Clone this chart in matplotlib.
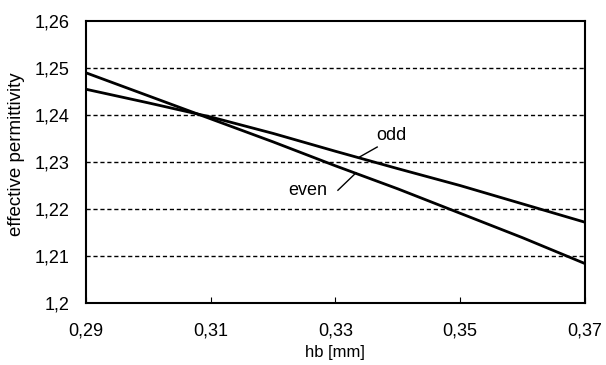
import matplotlib
matplotlib.use("Agg")
import matplotlib.pyplot as plt
from matplotlib.ticker import FuncFormatter

plt.rcParams['font.family'] = ['Liberation Sans', 'DejaVu Sans']

# hb [mm]
hb = [0.29, 0.30, 0.31, 0.32, 0.33, 0.34, 0.35, 0.36, 0.37]
eps_even = [1.2490, 1.2441, 1.2392, 1.2343, 1.2292, 1.2243, 1.2191, 1.2139, 1.2084]
eps_odd = [1.2455, 1.2426, 1.2396, 1.2361, 1.2323, 1.2286, 1.2250, 1.2211, 1.2172]

xticks = [0.29, 0.31, 0.33, 0.35, 0.37]
yticks = [1.20, 1.21, 1.22, 1.23, 1.24, 1.25, 1.26]

fig = plt.figure(figsize=(6.06, 3.65), dpi=100)
ax = fig.add_axes([0.142, 0.170, 0.823, 0.772])

ax.plot(hb, eps_even, color='black', lw=2)
ax.plot(hb, eps_odd, color='black', lw=2)

# dashed grid lines
for yv in yticks[1:-1]:
    ax.axhline(yv, color='black', lw=1, ls=(0, (3, 2)), zorder=0)

ax.set_xlim(0.29, 0.37)
ax.set_ylim(1.2, 1.26)
ax.set_xticks(xticks)
ax.set_yticks(yticks)

def comma(v, pos):
    s = f"{v:.2f}".rstrip('0').rstrip('.')
    return s.replace('.', ',')

ax.xaxis.set_major_formatter(FuncFormatter(comma))
ax.yaxis.set_major_formatter(FuncFormatter(comma))
ax.tick_params(axis='x', direction='in', length=4, pad=14, labelsize=13)
ax.tick_params(axis='y', direction='in', length=0, pad=12, labelsize=13)

for sp in ax.spines.values():
    sp.set_linewidth(1.5)

ax.set_xlabel('hb [mm]', fontsize=12)
ax.set_ylabel('effective permittivity', fontsize=13.5)
ax.yaxis.set_label_coords(-0.122, 0.528)

# labels with leader lines
ax.text(0.3389, 1.2357, 'odd', fontsize=13, ha='center', va='center')
ax.plot([0.3339, 0.3367], [1.2311, 1.2332], color='black', lw=1)
ax.text(0.3256, 1.2240, 'even', fontsize=13, ha='center', va='center')
ax.plot([0.3304, 0.3333], [1.2240, 1.2277], color='black', lw=1)

fig.savefig('out.png', dpi=100)
